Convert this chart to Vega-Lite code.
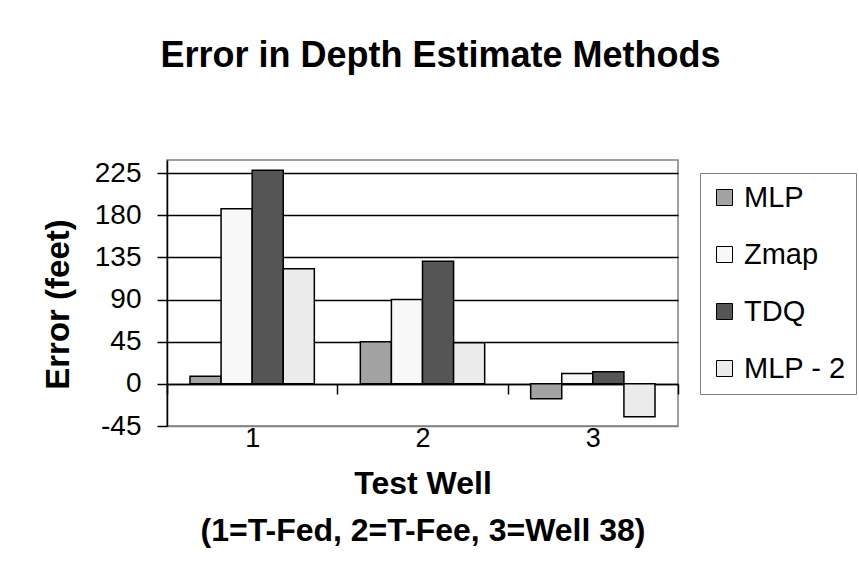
{
  "$schema": "https://vega.github.io/schema/vega-lite/v6.json",
  "width": 511,
  "height": 266,
  "autosize": "none",
  "padding": {"left": 167, "top": 160, "right": 181, "bottom": 149},
  "background": "white",
  "title": {
    "text": "Error in Depth Estimate Methods",
    "font": "Liberation Sans",
    "fontSize": 36,
    "fontWeight": "bold",
    "color": "black",
    "anchor": "middle",
    "dx": 18,
    "baseline": "alphabetic",
    "offset": 56
  },
  "data": {
    "values": [
      {"well": "1", "method": "MLP", "error": 8},
      {"well": "1", "method": "Zmap", "error": 187},
      {"well": "1", "method": "TDQ", "error": 228},
      {"well": "1", "method": "MLP - 2", "error": 123},
      {"well": "2", "method": "MLP", "error": 45},
      {"well": "2", "method": "Zmap", "error": 90},
      {"well": "2", "method": "TDQ", "error": 131},
      {"well": "2", "method": "MLP - 2", "error": 44},
      {"well": "3", "method": "MLP", "error": -16},
      {"well": "3", "method": "Zmap", "error": 11},
      {"well": "3", "method": "TDQ", "error": 13},
      {"well": "3", "method": "MLP - 2", "error": -35}
    ]
  },
  "mark": {"type": "bar", "stroke": "black", "strokeWidth": 1.5},
  "encoding": {
    "x": {
      "field": "well",
      "type": "nominal",
      "scale": {"paddingInner": 0, "paddingOuter": 0},
      "axis": {
        "title": ["Test Well", "(1=T-Fed, 2=T-Fee, 3=Well 38)"],
        "titleFont": "Liberation Sans",
        "titleFontSize": 32,
        "titleFontWeight": "bold",
        "titleColor": "black",
        "titleLineHeight": 47,
        "titlePadding": 17,
        "labelAngle": 0,
        "labelFont": "Liberation Sans",
        "labelFontSize": 27,
        "labelColor": "black",
        "labelPadding": 31,
        "offset": -42,
        "domainColor": "black",
        "domainWidth": 1.5,
        "tickBand": "extent",
        "tickColor": "black",
        "tickSize": 10,
        "tickWidth": 1.5
      }
    },
    "xOffset": {
      "field": "method",
      "type": "nominal",
      "sort": ["MLP", "Zmap", "TDQ", "MLP - 2"],
      "scale": {"paddingInner": 0, "paddingOuter": 0.74}
    },
    "y": {
      "field": "error",
      "type": "quantitative",
      "scale": {"domain": [-45, 239], "nice": false, "zero": false},
      "axis": {
        "title": "Error  (feet)",
        "titleFont": "Liberation Sans",
        "titleFontSize": 33,
        "titleFontWeight": "bold",
        "titleColor": "black",
        "titleX": -92,
        "titleY": 144,
        "titleAngle": 270,
        "titleAlign": "center",
        "titleBaseline": "bottom",
        "values": [-45, 0, 45, 90, 135, 180, 225],
        "labelExpr": "'' + datum.value",
        "labelFont": "Liberation Sans",
        "labelFontSize": 28,
        "labelColor": "black",
        "labelPadding": 16,
        "domainColor": "black",
        "domainWidth": 1.5,
        "tickColor": "black",
        "tickSize": 10,
        "tickWidth": 1.5,
        "grid": true,
        "gridColor": {"condition": {"test": "datum.value < 0", "value": "#808080"}, "value": "black"},
        "gridWidth": 1.5
      }
    },
    "fill": {
      "field": "method",
      "type": "nominal",
      "sort": ["MLP", "Zmap", "TDQ", "MLP - 2"],
      "scale": {
        "domain": ["MLP", "Zmap", "TDQ", "MLP - 2"],
        "range": ["#a3a3a3", "#f8f8f8", "#555555", "#ebebeb"]
      },
      "legend": {
        "title": null,
        "orient": "none",
        "legendX": 533,
        "legendY": 13,
        "strokeColor": "#808080",
        "fillColor": "white",
        "padding": 10,
        "symbolType": "square",
        "symbolSize": 256,
        "symbolStrokeColor": "black",
        "symbolStrokeWidth": 1,
        "labelFont": "Liberation Sans",
        "labelFontSize": 29,
        "labelColor": "black",
        "labelOffset": 5,
        "rowPadding": 27,
        "labelLimit": 200
      }
    }
  },
  "config": {
    "view": {"stroke": "#808080", "strokeWidth": 1.5}
  }
}
